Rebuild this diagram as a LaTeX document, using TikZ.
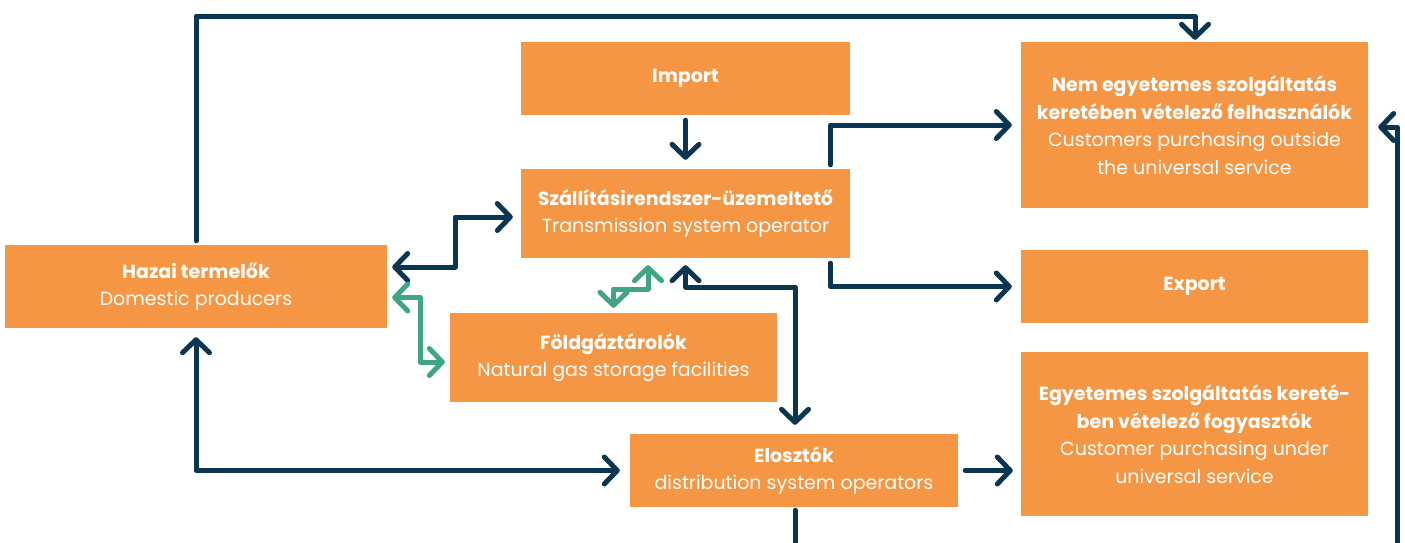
\documentclass[tikz,border=0pt]{standalone}
\usepackage{fontspec}
\setmainfont{Poppins}
\usetikzlibrary{arrows.meta}
\definecolor{box}{HTML}{F59644}
\definecolor{navy}{HTML}{0B3651}
\definecolor{grn}{HTML}{3FA585}
\begin{document}
\begin{tikzpicture}[x=1pt,y=-1pt,
  bx/.style={fill=box,draw=none,text=white,align=center,inner sep=0pt,
    font=\fontsize{19}{27.5}\selectfont},
  arr/.style={draw=navy,line width=5pt,line cap=round,line join=round,-{Straight Barb[length=13pt,width=27pt,round]}},
  dbl/.style={draw=navy,line width=5pt,line cap=round,line join=round,{Straight Barb[length=13pt,width=27pt,round]}-{Straight Barb[length=13pt,width=27pt,round]}},
  gdbl/.style={dbl,draw=grn},
  plain/.style={draw=navy,line width=5pt,line cap=round,line join=round}]
\useasboundingbox (0,0) rectangle (1405,542);
\node[bx,minimum width=329pt,minimum height=73pt] (imp) at (685.5,78.5) {\textbf{Import}};
\node[bx,minimum width=329pt,minimum height=89pt] (tso) at (685.5,213.5) {\textbf{Szállításirendszer-üzemeltető}\\Transmission system operator};
\node[bx,minimum width=382pt,minimum height=83pt] (haz) at (196,286.5) {\textbf{Hazai termelők}\\Domestic producers};
\node[bx,minimum width=327pt,minimum height=89pt] (fold) at (613.5,357.5) {\textbf{Földgáztárolók}\\Natural gas storage facilities};
\node[bx,minimum width=328pt,minimum height=73pt] (elo) at (794,470.5) {\textbf{Elosztók}\\distribution system operators};
\node[bx,minimum width=347pt,minimum height=166pt] (nem) at (1194.5,125) {\textbf{Nem egyetemes szolgáltatás}\\\textbf{keretében vételező felhasználók}\\Customers purchasing outside\\the universal service};
\node[bx,minimum width=347pt,minimum height=73pt] (exp) at (1194.5,286.5) {\textbf{Export}};
\node[bx,minimum width=347pt,minimum height=164pt] (egy) at (1194.5,434) {\textbf{Egyetemes szolgáltatás kereté-}\\\textbf{ben vételező fogyasztók}\\Customer purchasing under\\universal service};
\coordinate (t1) at (1195,16);
\coordinate (m3) at (455,240);
\coordinate (m6) at (795,287);
\coordinate (m10) at (420,330);
\coordinate (m11) at (630,289);
\coordinate (b1) at (795,545);
\coordinate (b2) at (1397,545);
% top
\draw[arr] ([yshift=4pt]haz.north) |- (t1) -- ([yshift=2pt]t1 |- nem.north);
% import -> tso
\draw[arr] ([yshift=-5pt]imp.south) -- ([yshift=9pt]tso.north);
% tso <-> haz
\draw[dbl] ([xshift=-8pt,yshift=-3.5pt]tso.west) -| (m3) |- ([xshift=5pt,yshift=19.5pt]haz.east);
% tso -> nem
\draw[arr] ([xshift=-20pt,yshift=4pt]tso.north east) |- ([xshift=-9pt]nem.west);
% tso -> export
\draw[arr] ([xshift=-20pt,yshift=-5pt]tso.south east) |- ([xshift=-9pt]exp.west);
% tso <-> elosztok
\draw[dbl] ([yshift=-7pt]tso.south) |- (m6) -| ([xshift=1pt,yshift=9pt]elo.north);
% haz <-> elosztok
\draw[dbl] ([yshift=-9pt]haz.south) |- ([xshift=-10pt]elo.west);
% elosztok -> egyetemes
\draw[arr] ([xshift=7pt]elo.east) -- ([xshift=-8pt]elo.east -| egy.west);
% bottom lines
\draw[plain] ([xshift=1pt,yshift=-3pt]elo.south) -- (b1);
\draw[arr] (b2) |- ([xshift=10pt,yshift=-2pt]nem.east);
% green
\draw[gdbl] ([xshift=5pt,yshift=-11pt]haz.east) -| (m10) |- ([xshift=-5pt,yshift=-4.5pt]fold.west);
\draw[gdbl] ([yshift=5pt]fold.north) |- (m11) -| ([xshift=-37.5pt,yshift=-7pt]tso.south);
\end{tikzpicture}
\end{document}
